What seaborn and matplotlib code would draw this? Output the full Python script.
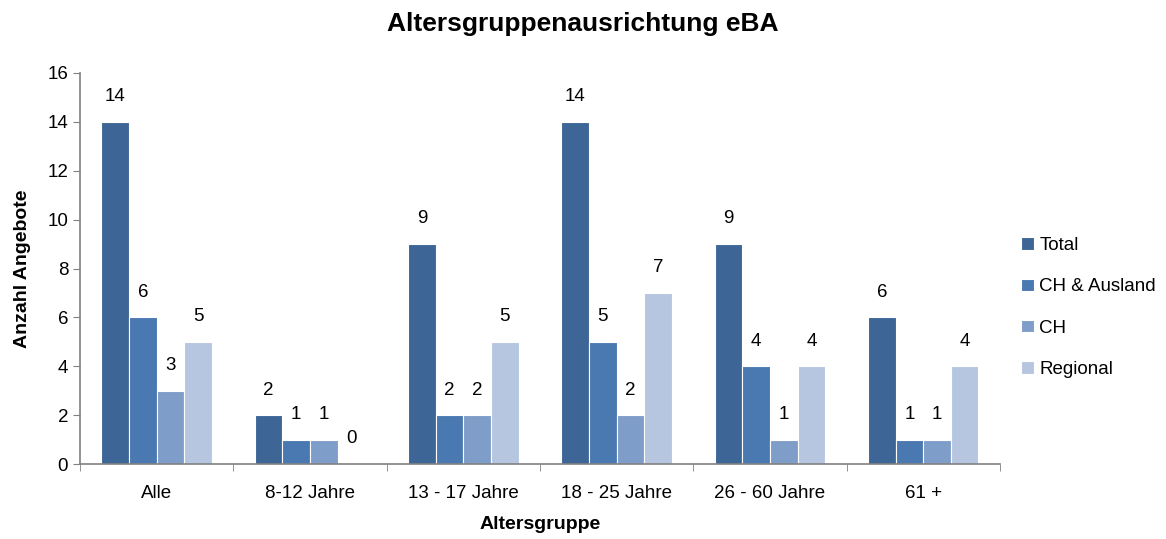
import pandas as pd
import matplotlib
matplotlib.use("Agg")
import matplotlib.pyplot as plt
import seaborn as sns

# Daten
gruppen = ["Alle", "8-12 Jahre", "13 - 17 Jahre", "18 - 25 Jahre", "26 - 60 Jahre", "61 +"]
serien = ["Total", "CH & Ausland", "CH", "Regional"]
total = [14, 2, 9, 14, 9, 6]
ch_ausland = [6, 1, 2, 5, 4, 1]
ch = [3, 1, 2, 2, 1, 1]
regional = [5, 0, 5, 7, 4, 4]
farben = ["#3d6595", "#4a78b0", "#7f9dc9", "#b6c5e0"]

df = pd.DataFrame({
    "Altersgruppe": gruppen * 4,
    "Serie": [s for s in serien for _ in gruppen],
    "Anzahl": total + ch_ausland + ch + regional,
})

sns.set_style("white")
plt.rcParams["font.family"] = ["Liberation Sans", "DejaVu Sans"]
plt.rcParams["text.color"] = "black"
plt.rcParams["axes.labelcolor"] = "black"
plt.rcParams["xtick.labelcolor"] = "black"
plt.rcParams["ytick.labelcolor"] = "black"

fig = plt.figure(figsize=(11.66, 5.39), dpi=100)
ax = fig.add_axes([0.0686, 0.139, 0.789, 0.7256])

sns.barplot(data=df, x="Altersgruppe", y="Anzahl", hue="Serie", order=gruppen,
            hue_order=serien, palette=farben, width=0.72, saturation=1,
            edgecolor="white", linewidth=0.8, ax=ax)

for cont in ax.containers:
    ax.bar_label(cont, padding=12, fontsize=13.5)

ax.set_ylim(0, 16)
ax.set_yticks(range(0, 17, 2))
ax.set_xlim(-0.5, len(gruppen) - 0.5)
ax.set_xticks([i - 0.5 for i in range(len(gruppen) + 1)], minor=True)
ax.tick_params(axis="x", which="major", length=0, labelsize=13.5, pad=15)
ax.tick_params(axis="x", which="minor", length=5, color="#808080", direction="out", bottom=True)
ax.tick_params(axis="y", length=5, color="#808080", direction="out", left=True, labelsize=13.5)

for side in ["top", "right"]:
    ax.spines[side].set_visible(False)
for side in ["left", "bottom"]:
    ax.spines[side].set_color("#808080")
    ax.spines[side].set_linewidth(1.2)

ax.set_xlabel("Altersgruppe", fontsize=14, fontweight="bold", labelpad=10)
ax.set_ylabel("Anzahl Angebote", fontsize=14, fontweight="bold", labelpad=12)
fig.suptitle("Altersgruppenausrichtung eBA", fontsize=19, fontweight="bold", y=0.977)

ax.legend(loc="center left", bbox_to_anchor=(1.005, 0.40), frameon=False, fontsize=13.5,
          handlelength=0.65, handleheight=0.65, handletextpad=0.3, labelspacing=1.3)

fig.savefig("out.png", dpi=100)
